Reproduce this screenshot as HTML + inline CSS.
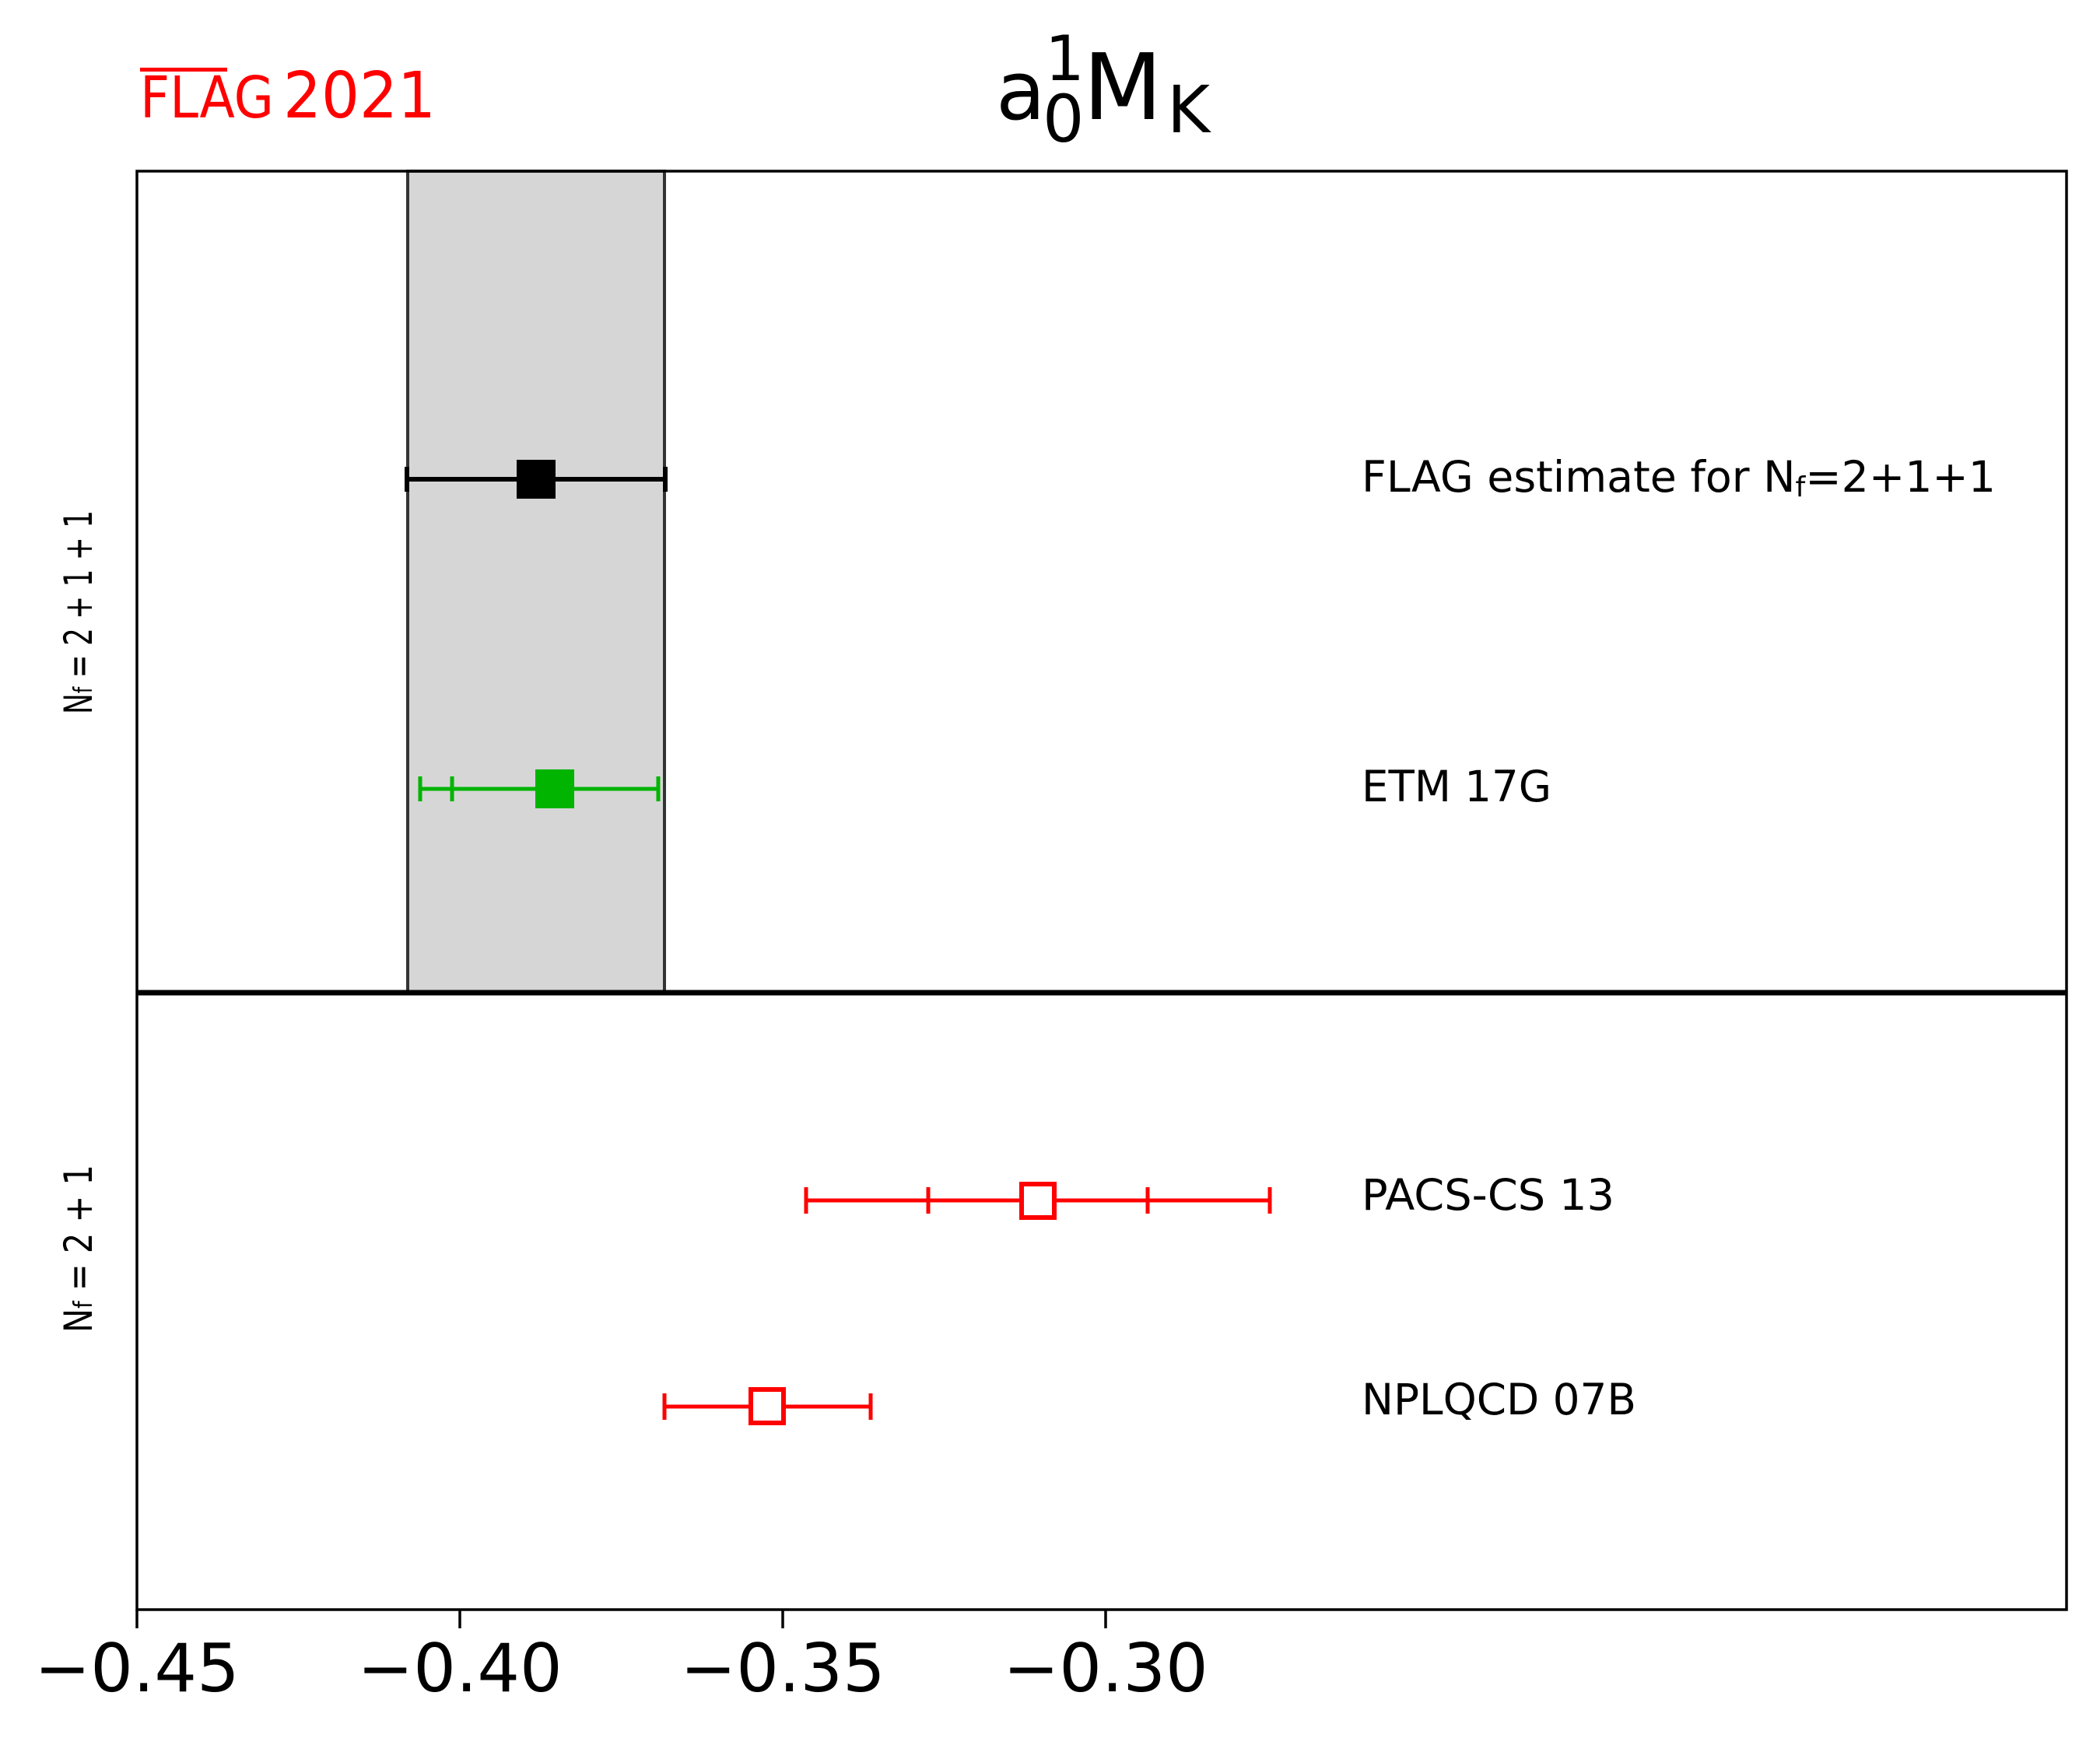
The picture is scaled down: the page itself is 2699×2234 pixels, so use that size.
<!DOCTYPE html>
<html><head><meta charset="utf-8"><style>html,body{margin:0;padding:0;background:#fff}svg{display:block}</style></head>
<body>
<svg xmlns="http://www.w3.org/2000/svg" width="2699" height="2234" viewBox="0 0 2699 2234" font-family="DejaVu Sans, Liberation Sans, sans-serif">
<rect width="2699" height="2234" fill="#fff"/>
<!-- band -->
<rect x="524" y="220" width="330" height="1056" fill="#d6d6d6" stroke="#333" stroke-width="4"/>
<!-- axes -->
<rect x="176" y="220" width="2480" height="1849" fill="none" stroke="#000" stroke-width="3.5"/>
<line x1="176" y1="1276" x2="2656" y2="1276" stroke="#000" stroke-width="7"/>
<!-- ticks -->
<g stroke="#000" stroke-width="3.5">
<line x1="176" y1="2069" x2="176" y2="2093"/>
<line x1="591" y1="2069" x2="591" y2="2093"/>
<line x1="1006" y1="2069" x2="1006" y2="2093"/>
<line x1="1421" y1="2069" x2="1421" y2="2093"/>
</g>
<g font-size="86" text-anchor="middle" fill="#000">
<text x="176" y="2174">−0.45</text>
<text x="591" y="2174">−0.40</text>
<text x="1006" y="2174">−0.35</text>
<text x="1421" y="2174">−0.30</text>
</g>
<!-- FLAG estimate -->
<g stroke="#000" stroke-width="6">
<line x1="523" y1="616" x2="855" y2="616"/>
<line x1="523" y1="600" x2="523" y2="632"/>
<line x1="855" y1="600" x2="855" y2="632"/>
</g>
<rect x="664" y="591" width="50" height="50" fill="#000"/>
<!-- ETM -->
<g stroke="#00b400" stroke-width="5">
<line x1="540" y1="1014" x2="846" y2="1014"/>
<line x1="540" y1="998" x2="540" y2="1030"/>
<line x1="581" y1="998" x2="581" y2="1030"/>
<line x1="846" y1="998" x2="846" y2="1030"/>
</g>
<rect x="688" y="989" width="50" height="50" fill="#00b400"/>
<!-- PACS -->
<g stroke="#ff0000" stroke-width="5">
<line x1="1036" y1="1543" x2="1632" y2="1543"/>
<line x1="1036" y1="1526" x2="1036" y2="1560"/>
<line x1="1193" y1="1526" x2="1193" y2="1560"/>
<line x1="1475" y1="1526" x2="1475" y2="1560"/>
<line x1="1632" y1="1526" x2="1632" y2="1560"/>
</g>
<rect x="1313" y="1522" width="42" height="43" fill="#fff" stroke="#ff0000" stroke-width="6"/>
<!-- NPLQCD -->
<g stroke="#ff0000" stroke-width="5">
<line x1="854" y1="1808" x2="1119" y2="1808"/>
<line x1="854" y1="1791" x2="854" y2="1825"/>
<line x1="1119" y1="1791" x2="1119" y2="1825"/>
</g>
<rect x="965" y="1786" width="42" height="43" fill="#fff" stroke="#ff0000" stroke-width="6"/>
<!-- labels -->
<g font-size="55" fill="#000">
<text x="1750" y="632" textLength="815" lengthAdjust="spacingAndGlyphs">FLAG estimate for N<tspan font-size="36" dy="6">f</tspan><tspan dy="-6">=2+1+1</tspan></text>
<text x="1750" y="1030" textLength="244" lengthAdjust="spacingAndGlyphs">ETM 17G</text>
<text x="1750" y="1555" textLength="325" lengthAdjust="spacingAndGlyphs">PACS-CS 13</text>
<text x="1750" y="1818" textLength="353" lengthAdjust="spacingAndGlyphs">NPLQCD 07B</text>
</g>
<!-- y group labels -->
<g font-size="50" fill="#000">
<text transform="translate(118,918) rotate(-90)" textLength="262" lengthAdjust="spacingAndGlyphs">N<tspan font-size="33">f</tspan> = 2 + 1 + 1</text>
<text transform="translate(118,1713) rotate(-90)" textLength="216" lengthAdjust="spacingAndGlyphs">N<tspan font-size="33">f</tspan> = 2 + 1</text>
</g>
<!-- FLAG2021 -->
<g fill="#ff0000">
<text x="180" y="151" font-size="74" textLength="172" lengthAdjust="spacingAndGlyphs">FLAG</text>
<rect x="180" y="87" width="112" height="5"/>
<text x="364" y="151" font-size="82" textLength="196" lengthAdjust="spacingAndGlyphs">2021</text>
</g>
<!-- title -->
<g fill="#000">
<text x="1280" y="153" font-size="104">a</text>
<text x="1340" y="182" font-size="84">0</text>
<text x="1343" y="103" font-size="80">1</text>
<text x="1392" y="153" font-size="118">M</text>
<text x="1500" y="170" font-size="84">K</text>
</g>
</svg>
</body></html>
